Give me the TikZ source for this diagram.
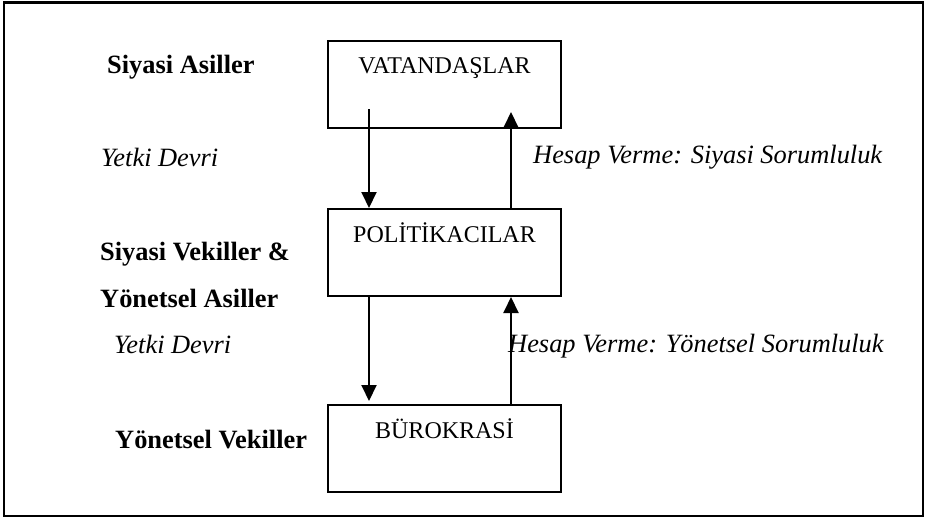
\documentclass[tikz,border=0pt]{standalone}
\usepackage{fontspec}
\setmainfont{Liberation Serif}
\usetikzlibrary{arrows.meta, positioning}

\begin{document}
\begin{tikzpicture}[
    x=1pt, y=-1pt,
    box/.style={rectangle, draw=black, line width=2pt, minimum width=233pt, inner xsep=0pt, inner ysep=0pt, text height=33pt, text depth=54pt, font=\fontsize{24}{28}\selectfont},
    role/.style={anchor=base west, inner sep=0pt, font=\fontsize{26.4}{30}\selectfont\bfseries},
    flow/.style={anchor=base west, inner sep=0pt, font=\fontsize{26.4}{30}\selectfont\itshape},
    arrow/.style={-{Triangle[width=15pt, length=16pt]}, line width=2pt},
    frame/.style={draw=black, line width=2.3pt}
]
\useasboundingbox (0,0) rectangle (925,519);
\draw[frame] (3.8,2.5) rectangle (922.8,516);

% Nodes
\node (vat) [box] at (444.5,84.5) {VATANDAŞLAR};
\node (pol) [box, below=79pt of vat] {POLİTİKACILAR};
\node (bur) [box, below=107pt of pol] {BÜROKRASİ};

\node (asil) [role] at (107,74) {Siyasi Asiller};
\node (vekil) [role] at (100,260) {Siyasi Vekiller \&};
\node (yasil) [role] at (100,307) {Yönetsel Asiller};
\node (yvekil) [role] at (115,448) {Yönetsel Vekiller};

\node (devri1) [flow] at (101,166) {Yetki Devri};
\node (hesap1) [flow] at (533,163) {Hesap Verme: Siyasi Sorumluluk};
\node (devri2) [flow] at (114,353) {Yetki Devri};
\node (hesap2) [flow] at (508,352) {Hesap Verme: Yönetsel Sorumluluk};

% Arrows
\draw [arrow] ([xshift=-75.5pt, yshift=20pt]vat.south) -- ([xshift=-75.5pt]pol.north);
\draw [arrow] ([xshift=66.5pt]pol.north) -- ([xshift=66.5pt, yshift=17pt]vat.south);
\draw [arrow] ([xshift=-75.5pt]pol.south) -- ([xshift=-75.5pt, yshift=3pt]bur.north);
\draw [arrow] ([xshift=66.5pt]bur.north) -- ([xshift=66.5pt]pol.south);

\end{tikzpicture}
\end{document}
